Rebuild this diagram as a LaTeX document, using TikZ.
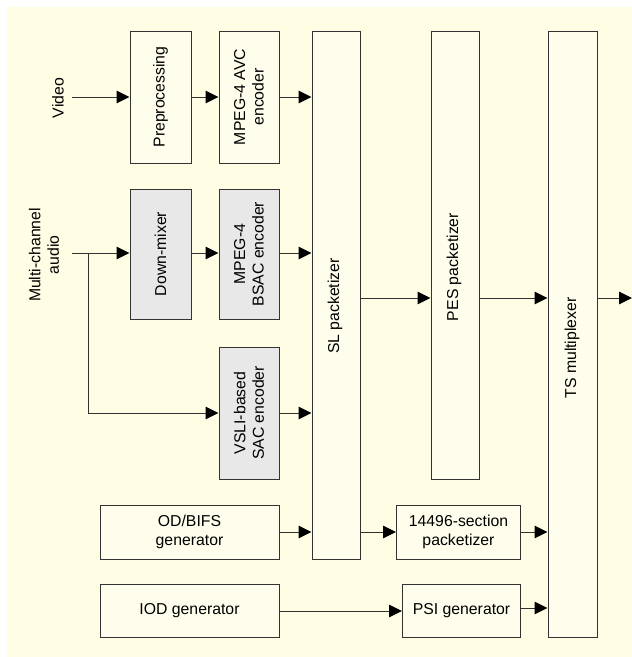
\documentclass[tikz,border=0pt]{standalone}
\usepackage{fontspec}
\setmainfont{Liberation Sans}
\usetikzlibrary{arrows.meta}
\definecolor{bgcol}{HTML}{FFFDE3}
\definecolor{boxcol}{HTML}{FFFDEB}
\definecolor{graycol}{HTML}{E8E8E8}
\definecolor{linecol}{HTML}{333333}
\begin{document}
\begin{tikzpicture}[x=1pt,y=-1pt,
  blk/.style={draw=linecol,line width=1pt,fill=boxcol,inner sep=0pt,
    minimum width=#1},
  blk/.default=60pt,
  gblk/.style={blk=#1,fill=graycol},
  gblk/.default=60pt,
  txt/.style={font=\fontsize{15.8}{18.4}\selectfont,align=center,inner sep=0pt},
  rtxt/.style={txt,rotate=90},
  conn/.style={draw=linecol,line width=1pt,-{Triangle[length=13pt,width=12.5pt,color=black]}},
  plain/.style={draw=linecol,line width=1pt}
]
\useasboundingbox (0,0) rectangle (632,657);
\fill[white] (0,0) rectangle (632,657);
\fill[bgcol] (7,7) rectangle (632,657);

% boxes
\node[blk=61pt,minimum height=132pt] (pre) at (160.5,97) {};
\node[rtxt] (pret) at (pre.center) {Preprocessing};
\node[blk=60pt,minimum height=132pt] (avc) at (249,97) {};
\node[rtxt] (avct) at (avc.center) {MPEG-4 AVC\\encoder};
\node[gblk=61pt,minimum height=130pt] (dmx) at (160.5,254) {};
\node[rtxt] (dmxt) at (dmx.center) {Down-mixer};
\node[gblk=60pt,minimum height=130pt] (bsac) at (249,254) {};
\node[rtxt] (bsact) at (bsac.center) {MPEG-4\\BSAC encoder};
\node[gblk=60pt,minimum height=132pt] (vsli) at (249,413) {};
\node[rtxt] (vslit) at (vsli.center) {VSLI-based\\SAC encoder};
\node[blk=48pt,minimum height=528pt] (sl) at (336,295) {};
\node[rtxt] (slt) at (335,306) {SL packetizer};
\node[blk=48pt,minimum height=448pt] (pes) at (455,255) {};
\node[rtxt] (pest) at (454,267) {PES packetizer};
\node[blk=49pt,minimum height=606pt] (ts) at (572.5,334) {};
\node[rtxt] (tst) at (572,348) {TS multiplexer};
\node[blk=179pt,minimum height=54pt] (od) at (189.5,532) {};
\node[txt] (odt) at (od.center) {OD/BIFS\\generator};
\node[blk=124pt,minimum height=54pt] (sec) at (458.5,532) {};
\node[txt] (sect) at (sec.center) {14496-section\\packetizer};
\node[blk=179pt,minimum height=53pt] (iod) at (189.5,610.5) {};
\node[txt] (iodt) at (iod.center) {IOD generator};
\node[blk=118pt,minimum height=53pt] (psi) at (461.5,610.5) {};
\node[txt] (psit) at (psi.center) {PSI generator};

% input labels
\node[rtxt] (video) at (58,98) {Video};
\node[rtxt] (audio) at (44,255) {Multi-channel\\audio};
\coordinate (vin) at (72,97);
\coordinate (ain) at (72,253);
\coordinate (abr) at (88,253);
\coordinate (abot) at (88,413);
\coordinate (out) at (632,298);

% connectors
\draw[conn] (vin) -- (pre.west |- vin);
\draw[conn] (pre.east |- vin) -- (avc.west |- vin);
\draw[conn] (avc.east |- vin) -- (sl.west |- vin);
\draw[conn] (ain) -- (dmx.west |- ain);
\draw[conn] (dmx.east |- ain) -- (bsac.west |- ain);
\draw[conn] (bsac.east |- ain) -- (sl.west |- ain);
\draw[plain] (abr) -- (abot);
\draw[conn] (abot) -- (vsli.west |- abot);
\draw[conn] (vsli.east |- abot) -- (sl.west |- abot);
\draw[conn] (sl.east |- out) -- (pes.west |- out);
\draw[conn] (pes.east |- out) -- (ts.west |- out);
\draw[conn] (ts.east |- out) -- (out);
\draw[conn] (od.east) -- (sl.west |- od.east);
\draw[conn] (sl.east |- od.east) -- (sec.west);
\draw[conn] (sec.east) -- (ts.west |- sec.east);
\coordinate (iodr) at (279,611);
\draw[conn] (iod.east |- iodr) -- (psi.west |- iodr);
\coordinate (psir) at (521,608);
\draw[conn] (psi.east |- psir) -- (ts.west |- psir);
\end{tikzpicture}
\end{document}
